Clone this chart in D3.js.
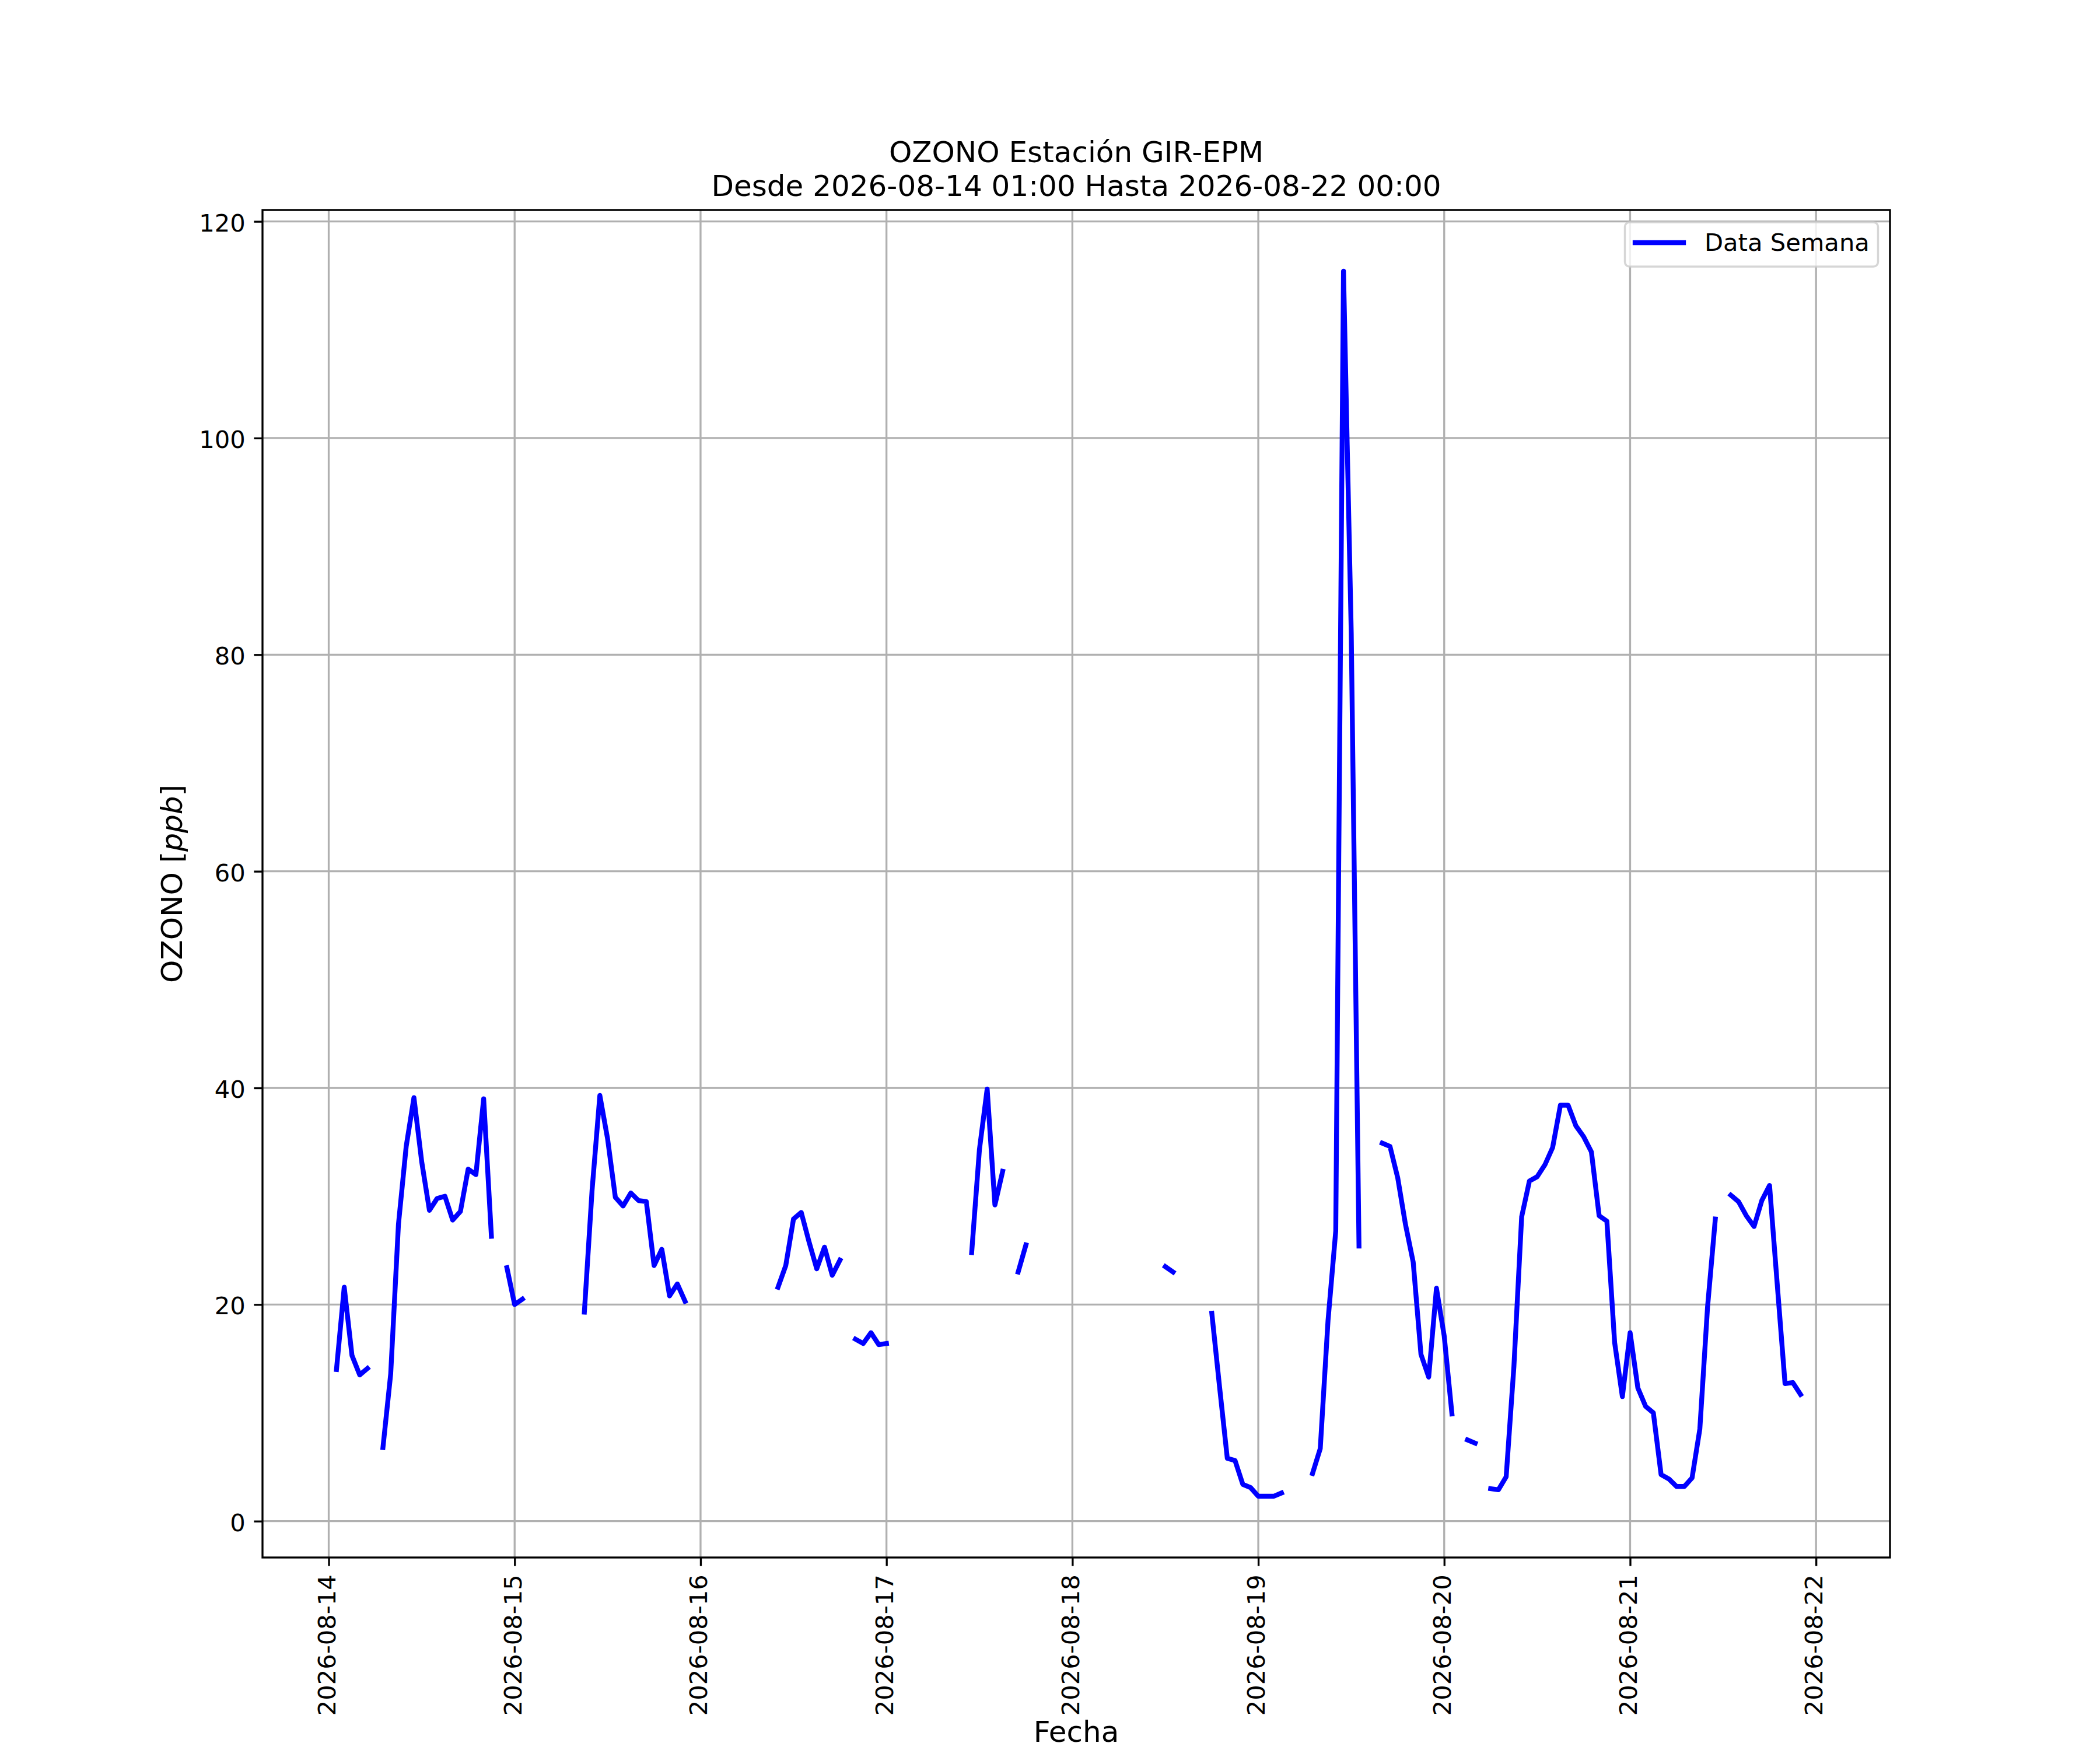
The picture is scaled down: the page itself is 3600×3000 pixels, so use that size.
<!DOCTYPE html>
<html>
<head>
<meta charset="utf-8">
<script src="https://cdn.jsdelivr.net/npm/d3@7"></script>
<style>
    body { margin: 0; background: #ffffff; }
    text { font-family: "DejaVu Sans", sans-serif; fill: #000000; }
</style>
</head>
<body>
<div id="ozono-graphic"></div>
<script>
// horas 01..23 del 14, luego 00..23 de cada dia, y 00 del 22 (null = sin dato)
const inicio = Date.UTC(2026, 7, 14, 1);
const ozono14 = [14.0, 21.6, 15.3, 13.5, 14.1, null, 6.8, 13.6, 27.4, 34.6, 39.1, 33.2,
    28.7, 29.8, 30.0, 27.8, 28.6, 32.5, 32.0, 39.0, 26.3, null, 23.4];
const ozono15 = [20.0, 20.5, null, null, null, null, null, null, null, 19.3, 30.6, 39.3,
    35.3, 29.9, 29.1, 30.3, 29.6, 29.5, 23.6, 25.1, 20.8, 21.9, 20.3, null];
const ozono16 = [null, null, null, null, null, null, null, null, null, null, 21.6, 23.6,
    27.9, 28.5, 25.8, 23.3, 25.3, 22.7, 24.1, null, 16.8, 16.4, 17.4, 16.3];
const ozono17 = [16.4, null, null, null, null, null, null, null, null, null, null, 24.8,
    34.3, 39.9, 29.2, 32.3, null, 23.0, 25.5, null, null, null, null, null];
const ozono18 = [null, null, null, null, null, null, null, null, null, null, null, null,
    23.5, 23.0, null, null, null, null, 19.2, 12.4, 5.8, 5.6, 3.4, 3.1];
const ozono19 = [2.3, 2.3, 2.3, 2.6, null, null, null, 4.4, 6.7, 18.5, 26.8, 115.4,
    82.0, 25.4, null, null, 34.9, 34.6, 31.7, 27.4, 23.9, 15.4, 13.3, 21.5];
const ozono20 = [17.1, 9.9, null, 7.5, 7.2, null, 3.0, 2.9, 4.1, 14.3, 28.1, 31.4,
    31.8, 32.9, 34.5, 38.4, 38.4, 36.5, 35.5, 34.1, 28.2, 27.7, 16.5, 11.5];
const ozono21 = [17.4, 12.3, 10.6, 10.0, 4.3, 3.9, 3.2, 3.2, 4.0, 8.5, 19.8, 27.9,
    null, 30.1, 29.5, 28.2, 27.2, 29.6, 31.0, 21.8, 12.7, 12.8, 11.7, null];
const ozono22 = [null];

const dias = ["2026-08-14", "2026-08-15", "2026-08-16", "2026-08-17", "2026-08-18",
    "2026-08-19", "2026-08-20", "2026-08-21", "2026-08-22"];
const yTicks = [0, 20, 40, 60, 80, 100, 120];

const titulo = ["OZONO Estación GIR-EPM", "Desde 2026-08-14 01:00 Hasta 2026-08-22 00:00"];
const serie = "Data Semana";

const W = 3600, H = 3000;
const i1 = 450, i2 = 3240, j1 = 360, j2 = 2670;
const pt = 300 / 72;

let valores = [].concat(ozono14, ozono15, ozono16, ozono17, ozono18, ozono19, ozono20, ozono21, ozono22);
let datos = valores.map((v, i) => ({ fecha: new Date(inicio + i * 3600e3), v: v }));

// margenes de 5% como matplotlib
let ext = d3.extent(datos, d => d.fecha.getTime());
let dx = (ext[1] - ext[0]) * 0.05;
let eyv = d3.extent(datos.filter(d => d.v != null), d => d.v);
let dy = (eyv[1] - eyv[0]) * 0.05;

var x = d3.scaleUtc()
    .domain([new Date(ext[0] - dx), new Date(ext[1] + dx)])
    .range([i1, i2]);
var y = d3.scaleLinear()
    .domain([eyv[0] - dy, eyv[1] + dy])
    .range([j2, j1]);

let parse = d3.utcParse("%Y-%m-%d");
let xTicks = dias.map(parse);

var svg = d3.select("#ozono-graphic").append("svg")
    .attr("width", W).attr("height", H);

svg.append("rect").attr("width", W).attr("height", H).attr("fill", "#ffffff");

// grid
var grid = svg.append("g").attr("stroke", "#b0b0b0").attr("stroke-width", 0.8 * pt);
grid.selectAll(".gx").data(xTicks).enter().append("line")
    .attr("x1", d => x(d)).attr("x2", d => x(d))
    .attr("y1", j1).attr("y2", j2);
grid.selectAll(".gy").data(yTicks).enter().append("line")
    .attr("x1", i1).attr("x2", i2)
    .attr("y1", d => y(d)).attr("y2", d => y(d));

var line = d3.line()
    .defined(d => d.v != null)
    .x(d => x(d.fecha))
    .y(d => y(d.v));

svg.append("path")
    .attr("d", line(datos))
    .attr("fill", "none")
    .attr("stroke", "#0000ff")
    .attr("stroke-width", 2 * pt)
    .attr("stroke-linejoin", "round")
    .attr("stroke-linecap", "square");

// ejes
var axisX = d3.axisBottom(x)
    .tickValues(xTicks)
    .tickSize(3.5 * pt)
    .tickFormat(d3.utcFormat("%Y-%m-%d"));
var axisY = d3.axisLeft(y)
    .tickValues(yTicks)
    .tickSize(3.5 * pt)
    .tickFormat(d3.format("d"));

var gx = svg.append("g")
    .attr("transform", "translate(0," + j2 + ")")
    .call(axisX);
gx.select(".domain").remove();
gx.selectAll(".tick line").attr("stroke", "#000").attr("stroke-width", 0.8 * pt);
gx.selectAll(".tick text")
    .attr("font-size", 10 * pt)
    .attr("font-family", "DejaVu Sans")
    .attr("text-anchor", "end")
    .attr("x", 0).attr("y", 0)
    .attr("dx", 0).attr("dy", 0)
    .attr("transform", "translate(10.8," + (7 * pt) + ") rotate(-90)");

var gy = svg.append("g")
    .attr("transform", "translate(" + i1 + ",0)")
    .call(axisY);
gy.select(".domain").remove();
gy.selectAll(".tick line").attr("stroke", "#000").attr("stroke-width", 0.8 * pt);
gy.selectAll(".tick text")
    .attr("font-size", 10 * pt)
    .attr("font-family", "DejaVu Sans")
    .attr("x", -7 * pt)
    .attr("dy", 16.5);

svg.append("rect")
    .attr("x", i1).attr("y", j1)
    .attr("width", i2 - i1).attr("height", j2 - j1)
    .attr("fill", "none")
    .attr("stroke", "#000")
    .attr("stroke-width", 0.8 * pt);

// titulo
let cx = (i1 + i2) / 2;
svg.append("text").attr("x", cx).attr("y", 278)
    .attr("text-anchor", "middle").attr("font-size", 12 * pt).text(titulo[0]);
svg.append("text").attr("x", cx).attr("y", 336)
    .attr("text-anchor", "middle").attr("font-size", 12 * pt).text(titulo[1]);

svg.append("text").attr("x", cx).attr("y", 2986)
    .attr("text-anchor", "middle").attr("font-size", 12 * pt).text("Fecha");

var yl = svg.append("text")
    .attr("transform", "translate(312," + ((j1 + j2) / 2) + ") rotate(-90)")
    .attr("text-anchor", "middle")
    .attr("font-size", 12 * pt);
yl.append("tspan").text("OZONO [");
yl.append("tspan").attr("font-style", "italic").text("ppb");
yl.append("tspan").text("]");

// leyenda
var leg = svg.append("g");
leg.append("rect")
    .attr("x", 2785.5).attr("y", 381)
    .attr("width", 434).attr("height", 76)
    .attr("rx", 8).attr("ry", 8)
    .attr("fill", "#ffffff").attr("fill-opacity", 0.8)
    .attr("stroke", "#cccccc").attr("stroke-opacity", 0.8)
    .attr("stroke-width", 3.5);
leg.append("line")
    .attr("x1", 2803).attr("x2", 2886)
    .attr("y1", 416).attr("y2", 416)
    .attr("stroke", "#0000ff")
    .attr("stroke-width", 2 * pt)
    .attr("stroke-linecap", "square");
leg.append("text")
    .attr("x", 2922).attr("y", 430)
    .attr("font-size", 10 * pt)
    .text(serie);
</script>
</body>
</html>
